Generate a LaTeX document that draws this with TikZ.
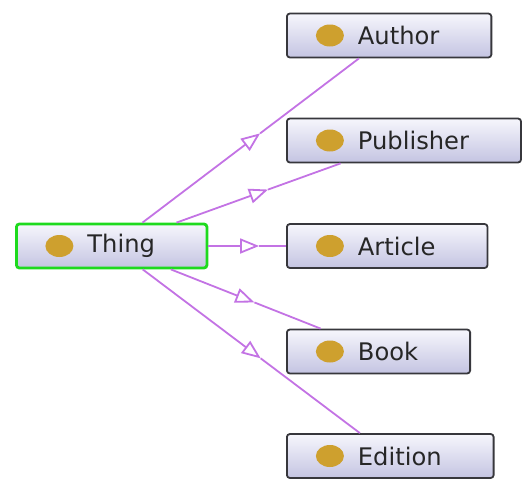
\documentclass[tikz,border=0pt]{standalone}
\usepackage{fontspec}
\setmainfont{DejaVu Sans}
\usetikzlibrary{arrows.meta,calc}
\definecolor{isaline}{RGB}{195,115,228}
\definecolor{dotgold}{RGB}{206,160,46}
\definecolor{boxtop}{RGB}{246,246,252}
\definecolor{boxbot}{RGB}{196,196,226}
\definecolor{boxframe}{RGB}{55,55,60}
\definecolor{selgreen}{RGB}{30,218,30}

\tikzset{
  cls/.style={rectangle, rounded corners=3pt, draw=boxframe, line width=1.8pt,
    top color=boxtop, bottom color=boxbot, minimum height=44pt, inner xsep=0pt,
    anchor=west, text=black!85, font=\fontsize{24.2}{28}\selectfont,
    path picture={\fill[dotgold] ([xshift=43pt]path picture bounding box.west) ellipse (14pt and 11pt);}},
  sel/.style={draw=selgreen, line width=2.8pt},
  link/.style={draw=isaline, line width=1.8pt},
  isa/.style={link, -{Triangle[open, length=19pt, width=15pt, line width=1.8pt]}}
}
\newcommand{\lbl}[1]{\hspace*{71pt}#1\hspace*{52pt}}

\begin{document}
\begin{tikzpicture}[x=1pt,y=-1pt]
\useasboundingbox (0,0) rectangle (526,480);

% Root class
\node [cls, sel] (thing) at (15,246) {\lbl{Thing}};
% Sub classes
\node [cls] (author) at (286,35.5) {\lbl{Author}};
\node [cls] (publisher) at (286,140.5) {\lbl{Publisher}};
\node [cls] (article) at (286,246) {\lbl{Article}};
\node [cls] (book) at (286,351.5) {\lbl{Book}};
\node [cls] (edition) at (286,456) {\lbl{Edition}};

% is-a links, head at mid way
\foreach \sub in {author,publisher,article,book,edition}{
  \coordinate (mid-\sub) at ($(thing.center)!.535!(\sub.center)$);
  \draw [isa] (thing) -- (mid-\sub);
  \draw [link] (mid-\sub) -- (\sub);
}

\end{tikzpicture}
\end{document}
